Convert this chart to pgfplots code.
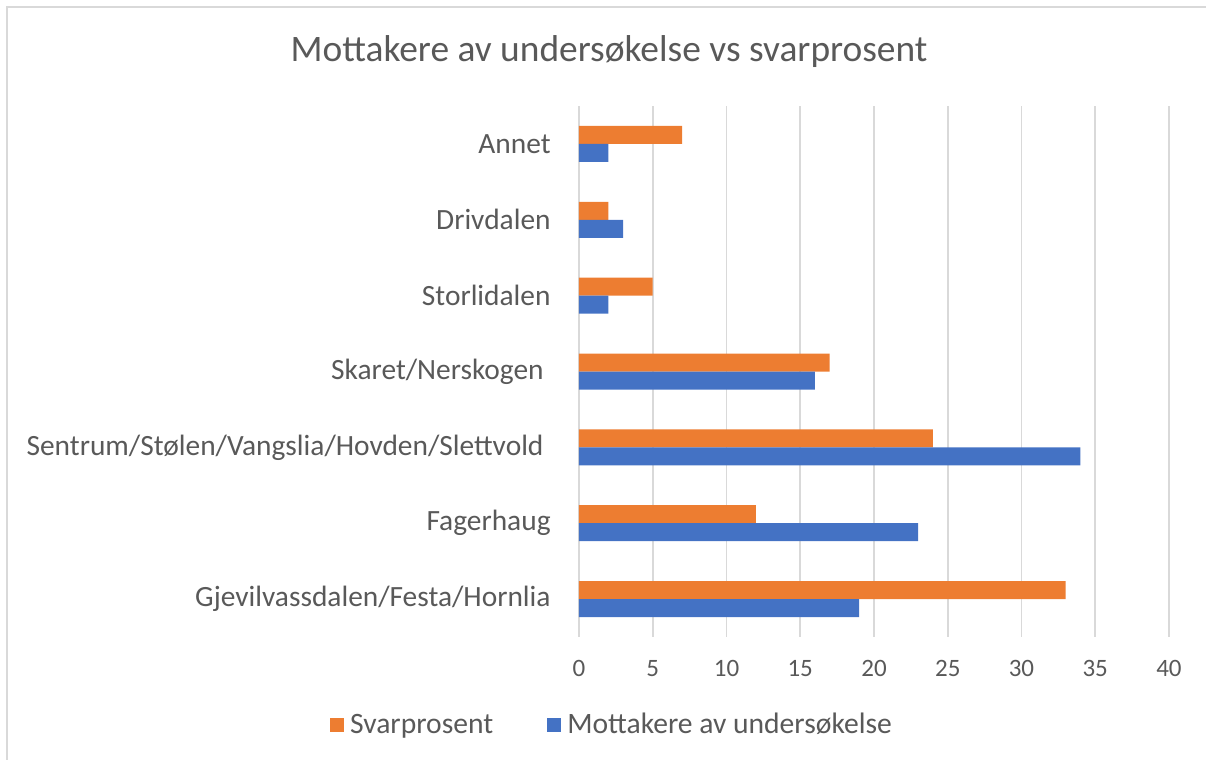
\documentclass[border=0pt]{standalone}
\usepackage{fontspec}
\setmainfont{Carlito}
\usepackage{pgfplots}
\pgfplotsset{compat=1.18}
\definecolor{cOrange}{HTML}{ED7D31}
\definecolor{cBlue}{HTML}{4472C4}
\definecolor{cText}{HTML}{595959}
\definecolor{cGrid}{HTML}{D9D9D9}
\begin{document}
\begin{tikzpicture}[x=1pt,y=1pt]
\path[use as bounding box] (0,0) rectangle (603,380);
\draw[cGrid, line width=0.9pt] (3.5,0) -- (3.5,376.5) -- (603,376.5);
\node[text=cText, font=\fontsize{18.7}{21}\selectfont, anchor=base] at (304.5,349) {Mottakere av undersøkelse vs svarprosent};
\begin{axis}[
  at={(289.5pt,61.5pt)}, anchor=south west,
  width=295pt, height=265.5pt, scale only axis,
  xbar, bar width=9pt,
  xmin=0, xmax=40, ymin=-0.5, ymax=6.5,
  xtick={0,5,...,40}, ytick={0,...,6},
  yticklabels={Gjevilvassdalen/Festa/Hornlia, Fagerhaug, Sentrum/Stølen/Vangslia/Hovden/Slettvold\hspace*{3.5pt}, Skaret/Nerskogen\hspace*{3.5pt}, Storlidalen, Drivdalen, Annet},
  axis line style={draw=none},
  major tick length=0pt,
  xmajorgrids, grid style={cGrid, line width=0.9pt},
  /pgf/number format/assume math mode=true,
  xticklabel style={text=cText, font=\fontsize{12.5}{14}\selectfont, inner sep=0pt, anchor=north, yshift=-11.5pt},
  yticklabel style={text=cText, font=\fontsize{14.7}{16}\selectfont, inner sep=0pt, anchor=east, xshift=-14pt},
  legend columns=2,
  legend style={at={(axis description cs:0.0576,-0.166)}, anchor=center, draw=none, fill=none,
    font=\fontsize{14.8}{16}\selectfont, text=cText,
    /tikz/every odd column/.append style={column sep=1pt},
    /tikz/every even column/.append style={column sep=25pt}},
  legend image code/.code={\fill[#1] (0pt,-3.5pt) rectangle (7pt,3.5pt);},
]
\addplot[fill=cOrange, draw=none, bar shift=4.5pt] coordinates {(33,0) (12,1) (24,2) (17,3) (5,4) (2,5) (7,6)};
\addlegendentry{Svarprosent}
\addplot[fill=cBlue, draw=none, bar shift=-4.5pt] coordinates {(19,0) (23,1) (34,2) (16,3) (2,4) (3,5) (2,6)};
\addlegendentry{Mottakere av undersøkelse}
\end{axis}
\end{tikzpicture}
\end{document}
